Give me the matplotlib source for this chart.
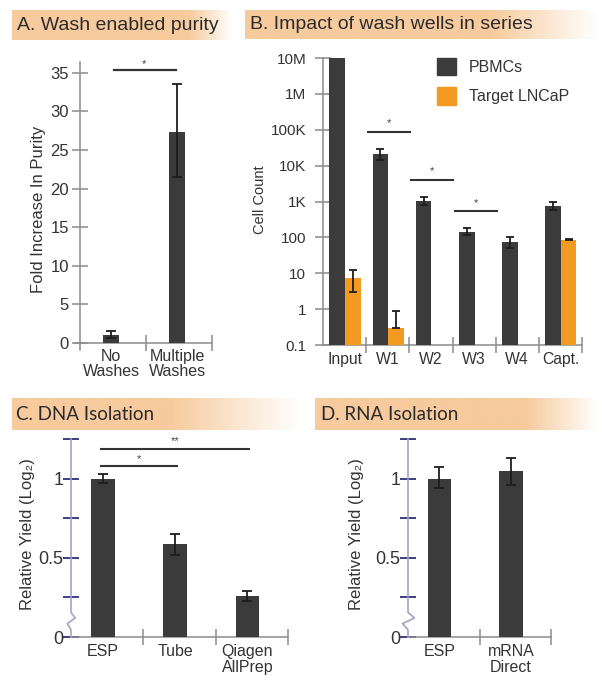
import numpy as np
import matplotlib
matplotlib.use("Agg")
import matplotlib.pyplot as plt
from matplotlib.patches import Patch
from matplotlib import font_manager

plt.rcParams['font.family'] = ['Liberation Sans', 'DejaVu Sans']

# ---------------- data ----------------
a_categories = ["No\nWashes", "Multiple\nWashes"]
a_values = [1.0, 27.3]
a_err_low = [0.6, 21.5]
a_err_high = [1.5, 33.6]

b_groups = ["Input", "W1", "W2", "W3", "W4", "Capt."]
b_pbmc = [1e7, 21000, 1050, 140, 75, 750]
b_pbmc_low = [1e7, 14000, 800, 115, 50, 570]
b_pbmc_high = [1e7, 29000, 1350, 180, 100, 960]
b_lncap = [7.5, 0.30, np.nan, np.nan, np.nan, 85]
b_lncap_low = [3.0, 0.30, np.nan, np.nan, np.nan, 82]
b_lncap_high = [12.3, 0.89, np.nan, np.nan, np.nan, 88]
b_series = ["PBMCs", "Target LNCaP"]
b_ticks = [0.1, 1, 10, 100, 1e3, 1e4, 1e5, 1e6, 1e7]
b_ticklabels = ["0.1", "1", "10", "100", "1K", "10K", "100K", "1M", "10M"]
b_sig_pairs = [(1, 2), (2, 3), (3, 4)]
b_sig_levels = [87000, 4000, 540]

c_categories = ["ESP", "Tube", "Qiagen\nAllPrep"]
c_values = [1.0, 0.585, 0.258]
c_err_low = [0.972, 0.52, 0.228]
c_err_high = [1.027, 0.65, 0.29]
c_sig = [((0, 1), 1.078, "*"), ((0, 2), 1.19, "**")]

d_categories = ["ESP", "mRNA\nDirect"]
d_values = [1.0, 1.05]
d_err_low = [0.94, 0.96]
d_err_high = [1.072, 1.13]

yield_ticks = [0, 0.25, 0.5, 0.75, 1.0, 1.25]
yield_ticklabels = ["0", "", "0.5", "", "1", ""]

# ---------------- style ----------------
BAR = "#3b3b3b"
ORANGE = "#f39a22"
AX_GRAY = "#8c8c8c"
TXT = "#333333"
NAVY = "#3f3f7f"
LILAC = "#a3a3c4"
BANNER = np.array([247, 203, 158]) / 255.0

installed = {f.name for f in font_manager.fontManager.ttflist}
NARROW = ['Liberation Sans Narrow'] if 'Liberation Sans Narrow' in installed else ['Lato']
NARROW_SIZE = 15 if 'Liberation Sans Narrow' in installed else 13.5

W, H = 602, 692
fig = plt.figure(figsize=(W / 100, H / 100), dpi=100)
fig.patch.set_facecolor("white")


def add_ax(x0, y0, x1, y1):
    return fig.add_axes([x0 / W, 1 - y1 / H, (x1 - x0) / W, (y1 - y0) / H])


def banner(x0, y0, x1, y1, text, fade_start, family, size, tx):
    bax = add_ax(x0, y0, x1, y1)
    n = 400
    t = np.linspace(0, 1, n)
    frac = np.clip((t - fade_start) / (1 - fade_start), 0, 1)
    rgb = BANNER[None, :] * (1 - frac[:, None]) + np.ones(3)[None, :] * frac[:, None]
    bax.imshow(rgb[None, :, :], aspect="auto", extent=[0, 1, 0, 1])
    bax.set_axis_off()
    fig.text(tx / W, 1 - ((y0 + y1) / 2) / H, text, ha="left", va="center",
             fontsize=size, color="#2b2b2b", family=family)


def err(ax, x, v, lo, hi, cap=3.5):
    v = np.asarray(v, float)
    lo = np.asarray(lo, float)
    hi = np.asarray(hi, float)
    ax.errorbar(x, v, yerr=[v - lo, hi - v], fmt="none", ecolor="#1e1e1e",
                elinewidth=1.3, capsize=cap, capthick=1.3, zorder=4)


# ---------------- Panel A ----------------
banner(12, 10, 232, 40, "A. Wash enabled purity", 0.8, ['Liberation Sans'], 14, 17)
ax = add_ax(74.7, 62, 212, 350)
ax.set_xlim(-0.08, 2)
ax.set_ylim(-0.9, 36.4)
for s in ["top", "right"]:
    ax.spines[s].set_visible(False)
ax.spines["left"].set_position(("data", 0))
ax.spines["bottom"].set_position(("data", 0))
for s in ["left", "bottom"]:
    ax.spines[s].set_color(AX_GRAY)
    ax.spines[s].set_linewidth(1.1)
xa = np.arange(len(a_values)) + 0.47
ax.bar(xa, a_values, width=0.25, color=BAR, zorder=3)
err(ax, xa, a_values, a_err_low, a_err_high)
ax.set_yticks(np.arange(0, 36, 5))
ax.tick_params(axis="y", direction="inout", length=12, width=1.1, color=AX_GRAY,
               labelcolor=TXT, labelsize=12, pad=2)
ax.set_xticks([1, 2])
ax.set_xticklabels([])
ax.set_xticks(xa, minor=True)
ax.set_xticklabels(a_categories, minor=True, fontsize=11.5, color=TXT, linespacing=1.0)
ax.tick_params(axis="x", which="major", direction="inout", length=12, width=1.1, color=AX_GRAY)
ax.tick_params(axis="x", which="minor", length=0, pad=4)
ax.set_ylabel("Fold Increase In Purity", fontsize=12, color=TXT)
ax.yaxis.set_label_coords(-0.21, 0.49)
ax.plot([xa[0] + 0.05, xa[1] - 0.02], [35.3, 35.3], color="#333", lw=1.6, clip_on=False)
ax.text((xa[0] + xa[1]) / 2, 35.5, "*", ha="center", va="bottom", fontsize=8, color="#444")

# ---------------- Panel B ----------------
banner(245, 10, 598, 39, "B. Impact of wash wells in series", 0.7, ['Liberation Sans'], 14, 250)
ax = add_ax(323, 58, 582, 345)
ax.set_yscale("log")
ax.set_ylim(0.1, 1e7)
ax.set_xlim(0, 6)
for s in ["top", "right"]:
    ax.spines[s].set_visible(False)
for s in ["left", "bottom"]:
    ax.spines[s].set_color(AX_GRAY)
    ax.spines[s].set_linewidth(1.1)
xb = np.arange(len(b_groups))
bw = 0.36
pb = np.array(b_pbmc, float)
lc = np.array(b_lncap, float)
ax.bar(xb + 0.33, pb, width=bw, color=BAR, zorder=3, label=b_series[0])
mask = ~np.isnan(lc)
ax.bar((xb + 0.69)[mask], lc[mask], width=bw, color=ORANGE, zorder=3, label=b_series[1])
pm = np.array(b_pbmc_high) > np.array(b_pbmc_low)
err(ax, (xb + 0.33)[pm], pb[pm], np.array(b_pbmc_low)[pm], np.array(b_pbmc_high)[pm], cap=3)
err(ax, (xb + 0.69)[mask], lc[mask], np.array(b_lncap_low)[mask], np.array(b_lncap_high)[mask], cap=3)
ax.set_yticks(b_ticks)
ax.set_yticklabels(b_ticklabels)
ax.yaxis.set_minor_locator(matplotlib.ticker.NullLocator())
ax.tick_params(axis="y", direction="inout", length=12, width=1.1, color=AX_GRAY,
               labelcolor=TXT, labelsize=11, pad=6)
ax.set_xticks(np.arange(1, 7))
ax.set_xticklabels([])
ax.set_xticks(xb + 0.5, minor=True)
ax.set_xticklabels(b_groups, minor=True, fontsize=11.3, color=TXT)
ax.tick_params(axis="x", which="major", direction="inout", length=12, width=1.1, color=AX_GRAY)
ax.tick_params(axis="x", which="minor", length=0, pad=5)
ax.set_ylabel("Cell Count", fontsize=10.5, color=TXT)
ax.yaxis.set_label_coords(-0.215, 0.505)
for (i, j), lvl in zip(b_sig_pairs, b_sig_levels):
    x0, x1 = i + 0.05, j + 0.02
    ax.plot([x0, x1], [lvl, lvl], color="#333", lw=1.5)
    ax.text((x0 + x1) / 2, lvl * 1.25, "*", ha="center", va="bottom", fontsize=8, color="#444")
ax.legend(handles=[Patch(color=BAR), Patch(color=ORANGE)], labels=b_series,
          loc="upper left", bbox_to_anchor=(0.44, 1.0), frameon=False, fontsize=11.5,
          handlelength=1.2, handleheight=1.3, labelspacing=0.75, handletextpad=0.8,
          borderpad=0, borderaxespad=0, labelcolor=TXT)


# ---------------- Panels C and D ----------------
def yield_panel(ax, cats, vals, lo, hi):
    n = len(cats)
    ax.set_xlim(0, n)
    ax.set_ylim(0, 1.25)
    for s in ["top", "right", "left"]:
        ax.spines[s].set_visible(False)
    ax.spines["bottom"].set_color(AX_GRAY)
    ax.spines["bottom"].set_linewidth(1.1)
    # y axis with break zigzag
    zx = np.array([0, 0, -0.05, 0.06, 0, 0]) * (3.0 / n)
    zy = [0, 0.045, 0.085, 0.12, 0.155, 1.25]
    ax.plot(zx, zy, color=LILAC, lw=1.2, clip_on=False, zorder=5)
    x = np.arange(n) + 0.44
    ax.bar(x, vals, width=0.33, color=BAR, zorder=3)
    err(ax, x, vals, lo, hi)
    ax.set_yticks(yield_ticks)
    ax.set_yticklabels(yield_ticklabels)
    ax.tick_params(axis="y", direction="inout", length=11, width=1.4, color=NAVY,
                   labelcolor=TXT, labelsize=13, pad=0)
    ax.set_xticks(np.arange(1, n + 1))
    ax.set_xticklabels([])
    ax.set_xticks(x, minor=True)
    ax.set_xticklabels(cats, minor=True, fontsize=11.5, color=TXT, linespacing=1.1)
    ax.tick_params(axis="x", which="major", direction="inout", length=11, width=1.1, color=AX_GRAY)
    ax.tick_params(axis="x", which="minor", length=0, pad=5)
    ax.set_ylabel("Relative Yield (Log₂)", fontsize=12, color=TXT)
    return x


banner(12, 398, 300, 430, "C. DNA Isolation", 0.55, NARROW + ['DejaVu Sans'], NARROW_SIZE, 16)
ax = add_ax(71, 439, 288, 637)
xc = yield_panel(ax, c_categories, c_values, c_err_low, c_err_high)
ax.yaxis.set_label_coords(-0.165, 0.52)
for (i, j), lvl, star in c_sig:
    x0, x1 = xc[i] - 0.02, xc[j] + 0.02
    ax.plot([x0, x1], [lvl, lvl], color="#333", lw=1.5, clip_on=False)
    ax.text((x0 + x1) / 2, lvl + 0.015, star, ha="center", va="bottom", fontsize=8, color="#444")

banner(315, 398, 598, 430, "D. RNA Isolation", 0.75, NARROW + ['DejaVu Sans'], NARROW_SIZE, 321)
ax = add_ax(408, 439, 551, 637)
yield_panel(ax, d_categories, d_values, d_err_low, d_err_high)
ax.yaxis.set_label_coords(-0.31, 0.52)

fig.savefig("out.png", dpi=100, facecolor="white")
